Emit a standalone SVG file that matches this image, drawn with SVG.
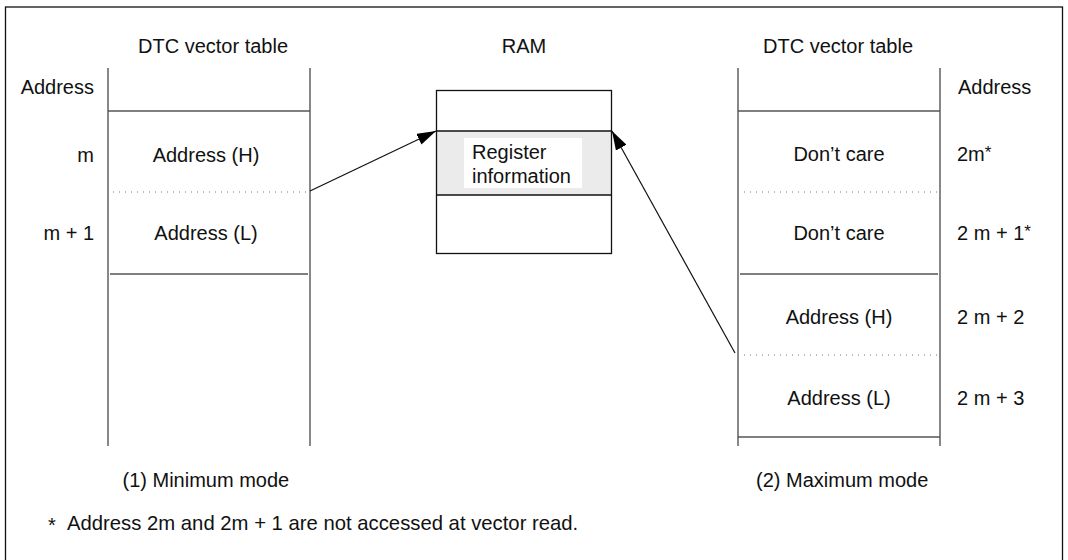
<svg xmlns="http://www.w3.org/2000/svg" width="1068" height="560" viewBox="0 0 1068 560">
<style>
text{font-family:"Liberation Sans",Arial,sans-serif;font-size:20px;fill:#111}
.mid{text-anchor:middle}
.end{text-anchor:end}
.tl{stroke:#555;stroke-width:1.4;fill:none}
.dot{stroke:#777;stroke-width:1;stroke-dasharray:1 5;fill:none}
.box{stroke:#111;stroke-width:1.3;fill:none}
.conn{stroke:#111;stroke-width:1.2;fill:none}
.sup{font-size:17px}
</style>
<defs>
<marker id="ah" markerUnits="userSpaceOnUse" markerWidth="20" markerHeight="12" refX="19" refY="6" orient="auto">
<path d="M0,0 L19,6 L0,12 Z" fill="#000"/>
</marker>
</defs>
<rect width="1068" height="560" fill="#fff"/>
<rect x="5.5" y="7" width="1057" height="600" fill="none" stroke="#111" stroke-width="1.3"/>

<g id="left-table">
<text class="mid" x="213" y="53">DTC vector table</text>
<line class="tl" x1="108" y1="68" x2="108" y2="446"/>
<line class="tl" x1="310" y1="68" x2="310" y2="446"/>
<line class="tl" x1="108" y1="111" x2="310" y2="111"/>
<line class="dot" x1="113" y1="192" x2="306" y2="192"/>
<line class="tl" x1="110" y1="274" x2="308" y2="274"/>
<text class="end" x="94" y="94">Address</text>
<text class="end" x="94" y="162">m</text>
<text class="mid" x="206" y="162">Address (H)</text>
<text class="end" x="94" y="240">m + 1</text>
<text class="mid" x="206" y="240">Address (L)</text>
<text x="122.5" y="487">(1) Minimum mode</text>
</g>

<g id="ram">
<text class="mid" x="524" y="53">RAM</text>
<rect x="436.5" y="131" width="175" height="64" fill="#ebebeb"/>
<rect x="464" y="138" width="118" height="50" fill="#fff"/>
<rect class="box" x="436.5" y="90.5" width="175" height="163"/>
<line class="box" x1="436.5" y1="131" x2="611.5" y2="131"/>
<line class="box" x1="436.5" y1="195" x2="611.5" y2="195"/>
<text x="472" y="159">Register</text>
<text x="472" y="183">information</text>
</g>

<g id="right-table">
<text class="mid" x="838" y="53">DTC vector table</text>
<line class="tl" x1="738" y1="68" x2="738" y2="446"/>
<line class="tl" x1="940" y1="68" x2="940" y2="446"/>
<line class="tl" x1="738" y1="111" x2="940" y2="111"/>
<line class="dot" x1="744" y1="192" x2="937" y2="192"/>
<line class="tl" x1="740" y1="274" x2="938" y2="274"/>
<line class="dot" x1="744" y1="355" x2="937" y2="355"/>
<line class="tl" x1="738" y1="437" x2="940" y2="437"/>
<text x="958" y="94">Address</text>
<text class="mid" x="839" y="161">Don’t care</text>
<text x="957" y="161">2m<tspan class="sup" dy="-3">*</tspan></text>
<text class="mid" x="839" y="240">Don’t care</text>
<text x="957" y="240">2 m + 1<tspan class="sup" dy="-3">*</tspan></text>
<text class="mid" x="839" y="324">Address (H)</text>
<text x="957" y="324">2 m + 2</text>
<text class="mid" x="839" y="405">Address (L)</text>
<text x="957" y="405">2 m + 3</text>
<text x="756" y="487">(2) Maximum mode</text>
</g>

<g id="connectors">
<line class="conn" x1="310" y1="191" x2="436" y2="131" marker-end="url(#ah)"/>
<line class="conn" x1="735" y1="353" x2="612" y2="131" marker-end="url(#ah)"/>
</g>

<g id="footnote">
<text x="48" y="532"><tspan>*</tspan><tspan x="67" y="530" style="font-size:20.3px">Address 2m and 2m + 1 are not accessed at vector read.</tspan></text>
</g>
</svg>
